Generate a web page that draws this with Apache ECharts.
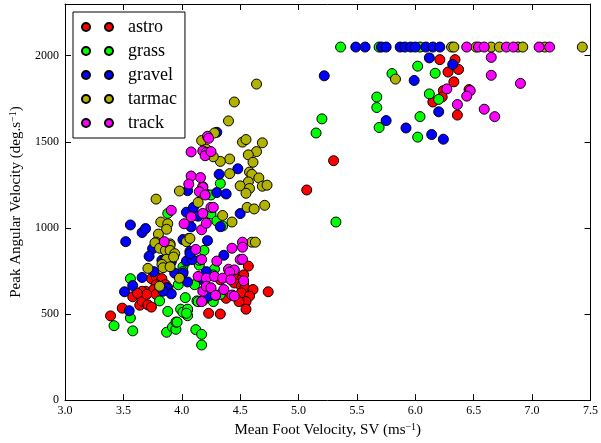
<!DOCTYPE html>
<html>
<head>
<meta charset="utf-8">
<script src="https://cdn.jsdelivr.net/npm/echarts@6/dist/echarts.min.js"></script>
<style>
  html, body { margin: 0; padding: 0; background: #fff; }
  #main { width: 601px; height: 443px; }
</style>
</head>
<body>
<div id="main"></div>
<script>
// categories
var surfaces = ['astro', 'grass', 'gravel', 'tarmac', 'track'];
var xTicks = ['3.0', '3.5', '4.0', '4.5', '5.0', '5.5', '6.0', '6.5', '7.0', '7.5'];
var yTicks = [0, 500, 1000, 1500, 2000];

// [mean foot velocity, peak angular velocity]
var astro = [
    [3.39,489],[3.49,534],[3.64,551],[3.66,574],[3.71,553],[3.74,540],[3.69,632],[3.66,632],[3.74,705],[3.78,718],
    [3.83,705],[3.78,670],[3.76,642],[3.80,623],[3.86,670],[3.88,652],[3.78,614],[3.70,614],[3.81,661],[3.58,600],
    [3.62,620],[4.23,504],[4.57,778],[4.53,727],[4.48,699],[4.45,680],[4.53,680],[4.51,661],[4.54,652],[4.61,642],
    [4.74,629],[4.51,623],[4.58,604],[4.55,572],[4.49,572],[4.55,528],[4.38,591],[4.33,500],[4.33,699],[4.44,727],
    [5.07,1220],[5.30,1390],[6.21,1977],[6.34,1977],[6.37,1920],[6.28,1905],[6.33,1848],[6.24,1797],[6.23,1760],
    [6.15,1731],[6.46,1803],[6.36,1655]
];
var grass = [
    [3.42,432],[3.56,477],[3.58,402],[3.87,394],[3.92,424],[3.95,411],[3.95,453],[4.12,409],[4.17,382],[4.17,320],
    [4.05,490],[3.56,705],[3.81,576],[3.88,515],[3.99,528],[4.05,523],[4.03,595],[4.01,774],[4.01,746],[4.11,670],
    [3.97,670],[4.13,576],[4.01,510],[4.15,784],[4.19,869],[3.88,1084],[4.21,1197],[4.23,1087],[4.33,1258],[4.25,1191],
    [4.25,1081],[4.30,1040],[4.35,1011],[4.14,572],[4.18,576],[4.27,572],[4.28,761],[4.05,528],[4.04,504],[4.25,642],
    [4.33,614],[4.15,812],[4.27,727],[3.96,453],
    [5.15,1551],[5.32,1034],[5.20,1633],[5.36,2050],[5.69,2050],[6.04,2050],[6.02,1939],[5.80,1896],[5.67,1760],
    [5.67,1699],[6.04,1646],[6.12,1778],[5.69,1583],[6.02,1527],[6.20,1746],[6.17,1898]
];
var gravel = [
    [5.49,2050],[5.57,2050],[5.71,2050],[5.75,2050],[5.87,2050],[5.91,2050],[5.96,2050],[6.00,2050],[6.09,2050],
    [6.15,2050],[6.21,2050],[5.22,1883],[5.99,1856],[6.12,1987],[5.75,1623],[5.92,1580],[6.14,1542],[6.24,1515],
    [6.20,1674],[6.32,1949],
    [3.52,920],[3.66,973],[3.69,996],[3.75,879],[3.72,835],[3.51,629],[3.58,665],[3.55,519],[3.66,712],[3.76,746],
    [3.83,812],[3.87,652],[3.91,617],[3.84,632],[3.94,737],[4.01,737],[4.05,686],[4.04,807],[4.09,816],[4.07,864],
    [4.22,926],[3.91,803],[3.86,822],[3.56,1017],[4.05,1216],[4.04,1091],[4.10,1119],[4.08,1006],[4.01,932],[4.14,1068],
    [4.30,1555],[4.48,1343],[4.32,1311],[4.30,1205],[4.38,1197],[4.50,1083],[4.33,1007],[4.07,850],[4.36,841],[4.21,746],
    [4.19,693],[4.23,604]
];
var tarmac = [
    [6.31,2050],[6.33,2050],[6.52,2050],[6.65,2050],[6.72,2050],[6.88,2050],[6.92,2050],[7.11,2050],[7.43,2050],
    [5.83,1864],[4.64,1835],[4.45,1731],[4.40,1621],[4.28,1551],[4.17,1507],[4.52,1498],[4.55,1513],[4.69,1494],
    [4.64,1443],[4.57,1424],[4.61,1381],[4.41,1400],[4.33,1386],[4.27,1413],[4.58,1324],[4.60,1311],[4.66,1290],
    [4.41,1315],[4.57,1267],[4.50,1244],[4.58,1229],[4.55,1201],[4.69,1242],[4.73,1248],[4.71,1131],[4.56,1119],
    [4.62,1110],[4.35,1072],[4.43,1034],[4.14,1148],[4.06,939],[4.60,917],[4.63,917],[4.21,1457],[3.78,1167],
    [3.98,1214],[3.82,1034],[3.88,1024],[3.87,992],[3.80,964],[4.04,920],[3.78,917],[3.90,907],[3.77,913],
    [3.81,882],[3.86,869],[3.90,898],[3.90,869],[3.94,850],[3.87,818],[3.83,788],[3.84,769],[3.90,774],[3.93,831],
    [3.71,765],[3.98,708],[3.81,661],[4.07,939],[4.18,1240]
];
var track = [
    [6.44,2050],[6.54,2050],[6.59,2050],[6.78,2050],[6.84,2050],[7.06,2050],[7.15,2050],
    [6.65,1990],[6.65,1886],[6.90,1839],[6.27,1807],[6.47,1797],[6.44,1765],[6.36,1716],[6.59,1689],[6.68,1646],
    [4.22,1532],[4.23,1520],[4.08,1441],[4.18,1447],[4.21,1438],[4.20,1419],[4.25,1443],[4.08,1301],[4.16,1292],
    [4.06,1254],[4.18,1235],[3.91,1102],[4.08,1064],[4.18,1084],[4.02,1024],[4.17,989],[3.85,920],[4.15,1210],
    [4.20,1191],[4.25,1119],[4.27,1119],[4.21,1027],[4.52,917],[4.12,875],[4.17,816],[4.14,718],[4.21,708],
    [4.18,632],[4.21,661],[4.52,888],[4.43,882],[4.30,807],[4.50,816],[4.52,818],[4.40,760],[4.45,756],[4.41,743],
    [4.28,718],[4.35,708],[4.42,699],[4.53,693],[4.25,652],[4.36,642],[4.29,608],[4.43,610],[4.45,604],[4.17,572]
];
var seriesData = [astro, grass, gravel, tarmac, track];
var colors = ['#ff0000', '#00ff00', '#0000ff', '#b2b200', '#ff00ff'];

var font = 'Liberation Serif';
var myChart = echarts.init(document.getElementById('main'));

var tickStyle = {show: true, inside: true, length: 6, lineStyle: {color: '#000', width: 1}};
var lineStyle = {show: true, onZero: false, lineStyle: {color: '#000', width: 1}};
var supRich = {sup: {fontFamily: font, fontSize: 10, color: '#000', verticalAlign: 'top', padding: [0, 0, 7, 0]}};

var series = [];
for (var i = 0; i < surfaces.length; i++) {
    series.push({
        name: surfaces[i],
        type: 'scatter',
        symbol: 'circle',
        symbolSize: 10,
        xAxisIndex: 0,
        yAxisIndex: 0,
        itemStyle: {color: colors[i], borderColor: '#000', borderWidth: 1, opacity: 1},
        emphasis: {disabled: true},
        data: seriesData[i]
    });
}

var option = {
    animation: false,
    backgroundColor: '#fff',
    textStyle: {fontFamily: font},
    grid: {left: 65, right: 10, top: 4, bottom: 35},
    legend: {
        orient: 'vertical',
        left: 73, top: 12,
        padding: [6, 8, 6, 8],
        itemGap: 6,
        itemWidth: 31, itemHeight: 8,
        icon: 'path://M0,4a4,4 0 1,0 8,0a4,4 0 1,0 -8,0z M23,4a4,4 0 1,0 8,0a4,4 0 1,0 -8,0z',
        borderColor: '#000', borderWidth: 1, borderRadius: 0,
        backgroundColor: '#fff',
        textStyle: {fontFamily: font, fontSize: 18, color: '#000', padding: [0, 0, 0, 10]},
        data: surfaces
    },
    xAxis: [{
        type: 'value', min: 3, max: 7.5, interval: 0.5,
        name: 'Mean Foot Velocity, SV (ms{sup|\u22121})',
        nameLocation: 'middle', nameGap: 20,
        nameTextStyle: {fontFamily: font, fontSize: 15, color: '#000', rich: supRich},
        axisLine: lineStyle, axisTick: tickStyle, splitLine: {show: false},
        axisLabel: {fontFamily: font, fontSize: 12, color: '#000', margin: 5,
            formatter: function (v) { return xTicks[Math.round((v - 3) / 0.5)]; }}
    }, {
        type: 'value', min: 3, max: 7.5, interval: 0.5, position: 'top',
        axisLine: lineStyle, axisTick: tickStyle, axisLabel: {show: false}, splitLine: {show: false}
    }],
    yAxis: [{
        type: 'value', min: 0, max: 2300, interval: 500,
        name: 'Peak Angular Velocity (deg.s{sup|\u22121})',
        nameLocation: 'middle', nameGap: 40,
        nameTextStyle: {fontFamily: font, fontSize: 15, color: '#000', rich: supRich},
        axisLine: lineStyle, axisTick: tickStyle, splitLine: {show: false},
        axisLabel: {fontFamily: font, fontSize: 12, color: '#000', margin: 6, showMaxLabel: false,
            formatter: function (v) { return yTicks.indexOf(v) >= 0 ? String(v) : ''; }}
    }, {
        type: 'value', min: 0, max: 2300, interval: 500, position: 'right',
        axisLine: lineStyle, axisTick: tickStyle, axisLabel: {show: false}, splitLine: {show: false}
    }],
    series: series
};

myChart.setOption(option);
window.onresize = function () {
    myChart.resize();
};
</script>
</body>
</html>
